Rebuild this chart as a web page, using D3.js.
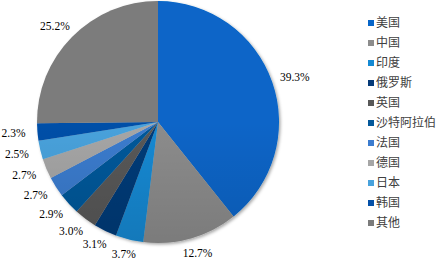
<!DOCTYPE html>
<html>
<head>
<meta charset="utf-8">
<script src="https://cdn.jsdelivr.net/npm/d3@7"></script>
<style>
  body { margin: 0; background: #fff; }
  svg { display: block; }
  .pct { font-family: "Liberation Serif", "DejaVu Serif", serif; font-size: 11.5px; }
  .leg { font-family: "Noto Sans CJK SC", sans-serif; font-size: 12px; }
</style>
</head>
<body>
<script>
const countries = ["美国", "中国", "印度", "俄罗斯", "英国", "沙特阿拉伯", "法国", "德国", "日本", "韩国", "其他"];
const shares = [39.3, 12.7, 3.7, 3.1, 3.0, 2.9, 2.7, 2.7, 2.5, 2.3, 25.2];
const colors = ["#0765c8", "#8c8c8c", "#1489d3", "#053a78", "#585858", "#04589a",
                "#3b7bce", "#a6a6a6", "#48a2dc", "#0450a8", "#7b7b7b"];

const width = 437, height = 261;
const cx = 158, cy = 122, radius = 121;

const data = countries.map((c, i) => ({ name: c, value: shares[i], color: colors[i] }));

const svg = d3.select(document.body).append("svg")
  .attr("width", width)
  .attr("height", height);

const defs = svg.append("defs");

// soft shadow at the edge
const shadow = defs.append("filter").attr("id", "shadow")
  .attr("x", "-10%").attr("y", "-10%").attr("width", "120%").attr("height", "120%");
shadow.append("feDropShadow")
  .attr("dx", 1.5).attr("dy", 1.5).attr("stdDeviation", 1.5)
  .attr("flood-color", "#000").attr("flood-opacity", 0.35);

// slight darkening toward the bottom
const shade = defs.append("linearGradient").attr("id", "shade")
  .attr("x1", 0).attr("y1", 0).attr("x2", 0).attr("y2", 1);
shade.append("stop").attr("offset", "50%").attr("stop-color", "#000").attr("stop-opacity", 0);
shade.append("stop").attr("offset", "100%").attr("stop-color", "#000").attr("stop-opacity", 0.12);

const pie = d3.pie().value(d => d.value).sort(null);
const arcs = pie(data);

const arc = d3.arc().innerRadius(0).outerRadius(radius);
const labelR = 130;
const labelArc = d3.arc().innerRadius(labelR).outerRadius(labelR);

const g = svg.append("g").attr("transform", `translate(${cx},${cy})`);

g.append("g")
  .attr("filter", "url(#shadow)")
  .selectAll("path")
  .data(arcs)
  .join("path")
    .attr("d", arc)
    .attr("fill", d => d.data.color);

g.append("circle")
  .attr("r", radius)
  .attr("fill", "url(#shade)");

// percentage labels, pushed outward by half the text box
const labelPos = d => {
  const [x, y] = labelArc.centroid(d);
  const a = (d.startAngle + d.endAngle) / 2;
  return [x + 15 * Math.sin(a), y - 6 * Math.cos(a)];
};

g.append("g")
  .selectAll("text")
  .data(arcs)
  .join("text")
    .attr("class", "pct")
    .attr("transform", d => `translate(${labelPos(d)})`)
    .attr("text-anchor", "middle")
    .attr("dy", "0.35em")
    .attr("fill", "#000")
    .text(d => d.data.value.toFixed(1) + "%");

// legend
const legendY = d3.scaleBand()
  .domain(countries)
  .range([13, 233]);

const legend = svg.append("g")
  .selectAll("g")
  .data(data)
  .join("g")
    .attr("transform", d => `translate(368,${legendY(d.name) + legendY.bandwidth() / 2})`);

legend.append("rect")
  .attr("x", 0)
  .attr("y", -3)
  .attr("width", 6)
  .attr("height", 6)
  .attr("fill", d => d.color);

legend.append("text")
  .attr("class", "leg")
  .attr("x", 8)
  .attr("dy", "0.35em")
  .attr("fill", "#404040")
  .text(d => d.name);
</script>
</body>
</html>
